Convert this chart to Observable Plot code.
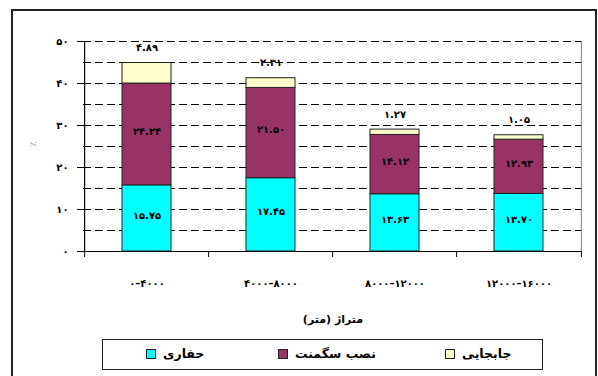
<!DOCTYPE html>
<html>
<head>
<meta charset="utf-8">
<script src="https://cdn.jsdelivr.net/npm/d3@7"></script>
<script src="https://cdn.jsdelivr.net/npm/@observablehq/plot@0.6"></script>
<style>
  body { margin: 0; background: #fff; }
  #wrap { position: relative; width: 598px; height: 376px; overflow: hidden; font-family: "DejaVu Sans", sans-serif; }
  #frame { position: absolute; left: 11px; top: 9px; width: 586px; height: 380px; border: 2px solid #222; box-sizing: border-box; }
  #legend { position: absolute; left: 102px; top: 339px; width: 441px; height: 31px; border: 1px solid #222; box-sizing: border-box; background: #fff; }
  .item { position: absolute; top: 6px; display: flex; align-items: center; font-size: 12.5px; font-weight: bold; direction: ltr; white-space: nowrap; }
  .sw { width: 8px; height: 8px; border: 1px solid #222; margin-right: 7px; }
  #wrap svg { position: absolute; left: 0; top: 0; }
</style>
</head>
<body>
<div id="wrap"><div id="frame"></div><div id="legend"></div></div>
<script>
const categories = ["۰–۴۰۰۰", "۴۰۰۰–۸۰۰۰", "۸۰۰۰–۱۲۰۰۰", "۱۲۰۰۰–۱۶۰۰۰"];
const seriesNames = ["حفاری", "نصب سگمنت", "جابجایی"];
const hafari = [15.75, 17.45, 13.63, 13.70];
const nasbSegment = [24.24, 21.50, 14.12, 12.93];
const jabejayi = [4.89, 2.31, 1.27, 1.05];
const yTicks = [0, 10, 20, 30, 40, 50];
const gridValues = [5, 10, 15, 20, 25, 30, 35, 40, 45, 50];
const colors = ["#00FFFF", "#993366", "#FFFFCC"];
const xTitle = "متراژ (متر)";
const yTitle = "٪";

const seriesValues = [hafari, nasbSegment, jabejayi];
const table = [];
seriesNames.forEach((s, si) => categories.forEach((c, ci) => table.push({cat: c, series: s, value: seriesValues[si][ci]})));
const totals = categories.map((c, ci) => ({cat: c, total: seriesValues.reduce((a, v) => a + v[ci], 0), top: jabejayi[ci]}));

const fa = s => String(s).replace(/\d/g, d => "۰۱۲۳۴۵۶۷۸۹"[d]);
const fmt = v => fa(v.toFixed(2));

const W = 598, H = 376, mL = 83, mR = 16, mT = 41, mB = 125;
const step = (W - mL - mR) / categories.length;
const pi = 0.607;
const font = "DejaVu Sans, sans-serif";

const plot = Plot.plot({
  width: W, height: H,
  marginLeft: mL, marginRight: mR, marginTop: mT, marginBottom: mB,
  style: {background: "transparent", fontFamily: font, overflow: "visible"},
  x: {type: "band", domain: categories, paddingInner: pi, paddingOuter: pi / 2, axis: null},
  y: {domain: [0, 50], axis: null},
  color: {domain: seriesNames, range: colors},
  marks: [
    Plot.ruleY(gridValues, {stroke: "#000", strokeWidth: 1, strokeDasharray: "8,4"}),
    Plot.ruleX([categories[categories.length - 1]], {dx: step / 2, y1: 0, y2: 50, stroke: "#808080"}),
    Plot.barY(table, {x: "cat", y: "value", fill: "series", stroke: "#222", strokeWidth: 1}),
    Plot.text(table, Plot.stackY({x: "cat", y: "value", z: "series",
      text: d => d.series === seriesNames[2] ? null : fmt(d.value),
      fontSize: 10, fontWeight: "bold", fill: "#000", dy: -3})),
    Plot.text(totals, {x: "cat", y: "total", text: d => fmt(d.top), dy: -15, fontSize: 10, fontWeight: "bold", fill: "#000"}),
    // axes
    Plot.ruleY([0], {stroke: "#000", strokeWidth: 1.2}),
    Plot.ruleX([categories[0]], {dx: -step / 2, y1: 0, y2: 50, stroke: "#000", strokeWidth: 1.2}),
    Plot.ruleX(categories, {dx: -step / 2, y1: 0, y2: 0, insetBottom: -6, stroke: "#000"}),
    Plot.ruleX([categories[categories.length - 1]], {dx: step / 2, y1: 0, y2: 0, insetBottom: -6, stroke: "#000"}),
    Plot.axisY({ticks: yTicks, tickSize: 6, tickPadding: 9, tickFormat: fa, fontSize: 10, fontWeight: "bold", anchor: "left", label: null}),
    Plot.text(categories, {x: d => d, frameAnchor: "bottom", dy: 35, fontSize: 10, fontWeight: "bold"}),
    Plot.text([xTitle + "\u200F"], {frameAnchor: "bottom", dy: 71, fontSize: 11, fontWeight: "bold"}),
    Plot.text([yTitle], {frameAnchor: "left", dx: -50, rotate: -90, fontSize: 9, fill: "#888"})
  ]
});
document.getElementById("wrap").appendChild(plot);

const color = plot.scale("color");
const legend = document.getElementById("legend");
const itemLeft = [43, 175, 342];
seriesNames.forEach((s, i) => {
  const it = document.createElement("div");
  it.className = "item";
  it.style.left = itemLeft[i] + "px";
  const sw = document.createElement("div");
  sw.className = "sw";
  sw.style.background = color.apply(s);
  const tx = document.createElement("span");
  tx.textContent = s;
  tx.style.direction = "rtl";
  it.appendChild(sw); it.appendChild(tx);
  legend.appendChild(it);
});
</script>
</body>
</html>
